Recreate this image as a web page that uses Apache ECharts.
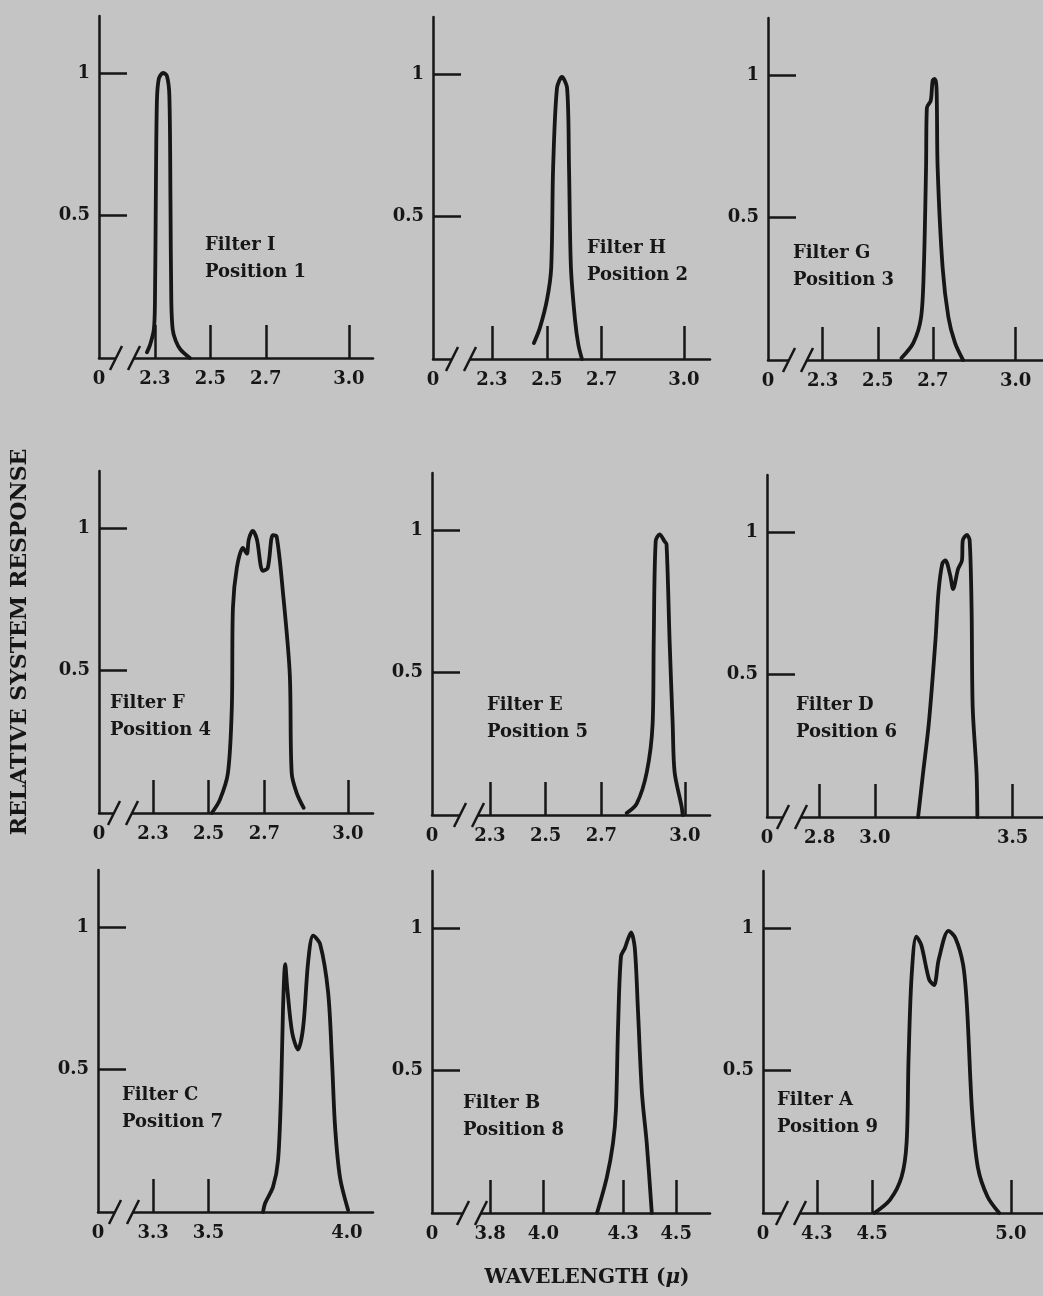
<!DOCTYPE html>
<html>
<head>
<meta charset="utf-8">
<title>Relative system response of filters</title>
<script src="https://cdn.jsdelivr.net/npm/echarts@6/dist/echarts.min.js"></script>
<style>
  html, body { margin: 0; padding: 0; background: #c4c4c4; }
  #chart { width: 1043px; height: 1296px; }
</style>
</head>
<body>
<div id="chart"></div>
<script>
// panel captions, in reading order
const panelNames = [
  'Filter I\nPosition 1', 'Filter H\nPosition 2', 'Filter G\nPosition 3',
  'Filter F\nPosition 4', 'Filter E\nPosition 5', 'Filter D\nPosition 6',
  'Filter C\nPosition 7', 'Filter B\nPosition 8', 'Filter A\nPosition 9'
];

// wavelength axis range shown right of the break (micron)
const axisMin = [2.098, 2.085, 2.102, 2.106, 2.092, 2.609, 3.101, 3.581, 4.106];
const axisMax = [3.087, 3.095, 3.099, 3.090, 3.090, 3.610, 4.094, 4.627, 5.116];

// tick marks and tick labels per panel
const tickVals = [
  [2.3, 2.5, 2.7, 3.0], [2.3, 2.5, 2.7, 3.0], [2.3, 2.5, 2.7, 3.0],
  [2.3, 2.5, 2.7, 3.0], [2.3, 2.5, 2.7, 3.0], [2.8, 3.0, 3.5],
  [3.3, 3.5], [3.8, 4.0, 4.3, 4.5], [4.3, 4.5, 5.0]
];
const labelVals = [
  [2.3, 2.5, 2.7, 3.0], [2.3, 2.5, 2.7, 3.0], [2.3, 2.5, 2.7, 3.0],
  [2.3, 2.5, 2.7, 3.0], [2.3, 2.5, 2.7, 3.0], [2.8, 3.0, 3.5],
  [3.3, 3.5, 4.0], [3.8, 4.0, 4.3, 4.5], [4.3, 4.5, 5.0]
];
const yTicks = [0.5, 1];

// response curves [wavelength, relative response]
const filterI = [[2.271,0.02],[2.282,0.045],[2.296,0.10],[2.300,0.20],[2.303,0.55],[2.307,0.90],[2.314,0.98],
  [2.329,1.0],[2.343,0.99],[2.352,0.92],[2.356,0.55],[2.359,0.20],[2.364,0.10],[2.375,0.06],[2.392,0.03],[2.426,0.0]];
const filterH = [[2.453,0.056],[2.475,0.11],[2.501,0.21],[2.516,0.32],[2.523,0.67],[2.537,0.95],[2.555,0.99],
  [2.574,0.95],[2.581,0.67],[2.588,0.32],[2.603,0.136],[2.615,0.05],[2.628,0.0]];
const filterG = [[2.586,0.007],[2.629,0.06],[2.657,0.15],[2.667,0.325],[2.675,0.675],[2.678,0.885],[2.692,0.91],
  [2.699,0.98],[2.706,0.986],[2.713,0.955],[2.717,0.675],[2.735,0.325],[2.756,0.15],[2.780,0.06],[2.809,0.0]];
const filterF = [[2.511,0.0],[2.540,0.046],[2.569,0.14],[2.583,0.37],[2.587,0.72],[2.601,0.86],[2.623,0.93],
  [2.637,0.91],[2.644,0.96],[2.658,0.99],[2.673,0.96],[2.694,0.85],[2.712,0.86],[2.730,0.975],[2.744,0.97],
  [2.766,0.78],[2.791,0.49],[2.798,0.14],[2.816,0.07],[2.841,0.018]];
const filterE = [[2.791,0.007],[2.827,0.04],[2.863,0.15],[2.884,0.32],[2.888,0.61],[2.895,0.96],[2.909,0.985],
  [2.927,0.96],[2.934,0.95],[2.945,0.61],[2.956,0.32],[2.963,0.15],[2.988,0.03],[2.992,0.0]];
const filterD = [[3.157,0.0],[3.175,0.154],[3.196,0.33],[3.220,0.62],[3.231,0.79],[3.245,0.89],[3.256,0.90],
  [3.273,0.85],[3.284,0.80],[3.302,0.87],[3.316,0.90],[3.319,0.97],[3.334,0.99],[3.344,0.97],[3.351,0.73],
  [3.355,0.385],[3.369,0.154],[3.372,0.0]];
const filterC = [[3.697,0.0],[3.704,0.03],[3.733,0.088],[3.751,0.18],[3.762,0.42],[3.769,0.71],[3.777,0.87],
  [3.784,0.79],[3.802,0.63],[3.823,0.57],[3.842,0.65],[3.860,0.88],[3.878,0.97],[3.903,0.94],[3.932,0.77],
  [3.946,0.53],[3.957,0.30],[3.975,0.12],[4.004,0.007]];
const filterB = [[4.202,0.0],[4.239,0.126],[4.262,0.245],[4.273,0.36],[4.281,0.65],[4.292,0.90],[4.307,0.93],
  [4.318,0.96],[4.330,0.985],[4.344,0.93],[4.356,0.71],[4.371,0.42],[4.389,0.245],[4.408,0.0]];
const filterA = [[4.508,0.0],[4.564,0.046],[4.606,0.127],[4.624,0.247],[4.631,0.54],[4.642,0.83],[4.659,0.97],
  [4.677,0.94],[4.705,0.82],[4.723,0.80],[4.740,0.89],[4.775,0.99],[4.800,0.965],[4.828,0.87],[4.842,0.72],
  [4.860,0.36],[4.881,0.16],[4.916,0.057],[4.958,0.0]];

const curves = [filterI, filterH, filterG, filterF, filterE, filterD, filterC, filterB, filterA];

// page layout: plot box of each panel in pixels, caption spot, break mark offset
const layout = [
  { left: 99,  axisY: 358,  right: 373,  brk: 26, capX: 205, capY: 240 },
  { left: 433, axisY: 359,  right: 710,  brk: 28, capX: 587, capY: 243 },
  { left: 768, axisY: 360,  right: 1050, brk: 30, capX: 793, capY: 248 },
  { left: 99,  axisY: 813,  right: 373,  brk: 24, capX: 110, capY: 698 },
  { left: 432, axisY: 815,  right: 710,  brk: 37, capX: 487, capY: 700 },
  { left: 767, axisY: 817,  right: 1050, brk: 25, capX: 796, capY: 700 },
  { left: 98,  axisY: 1212, right: 373,  brk: 26, capX: 122, capY: 1090 },
  { left: 432, axisY: 1213, right: 710,  brk: 40, capX: 463, capY: 1098 },
  { left: 763, axisY: 1213, right: 1050, brk: 28, capX: 777, capY: 1095 }
];

const ink = '#161616';
const paper = '#c4c4c4';
const serif = "'DejaVu Serif', 'Liberation Serif', serif";
const plotH = 342;

const grid = [], xAxis = [], yAxis = [], series = [], title = [];

layout.forEach((p, i) => {
  grid.push({ left: p.left, top: p.axisY - plotH, width: p.right - p.left, height: plotH });
  const lo = axisMin[i];
  xAxis.push({
    type: 'value', gridIndex: i, min: lo, max: axisMax[i],
    splitLine: { show: false },
    axisLine: { lineStyle: { color: ink, width: 2.5 } },
    axisTick: { inside: true, length: 33, customValues: tickVals[i], lineStyle: { color: ink, width: 2.5 } },
    axisLabel: {
      customValues: [lo].concat(labelVals[i]),
      formatter: v => Math.abs(v - lo) < 1e-6 ? '0' : v.toFixed(1),
      color: ink, fontFamily: serif, fontWeight: 'bold', fontSize: 18, margin: 12
    }
  });
  yAxis.push({
    type: 'value', gridIndex: i, min: 0, max: 1.2,
    splitLine: { show: false },
    axisLine: { show: true, lineStyle: { color: ink, width: 2.5 } },
    axisTick: { inside: true, length: 28, customValues: yTicks, lineStyle: { color: ink, width: 2.5 } },
    axisLabel: {
      customValues: yTicks,
      formatter: v => v === 1 ? '1' : '0.5',
      color: ink, fontFamily: serif, fontWeight: 'bold', fontSize: 18, margin: 9
    }
  });
  series.push({
    type: 'line', xAxisIndex: i, yAxisIndex: i, data: curves[i],
    showSymbol: false, smooth: 0.3, silent: true,
    lineStyle: { color: ink, width: 3.8, cap: 'round', join: 'round' }
  });
  // "//" break mark on the wavelength axis, just right of the origin
  series.push({
    type: 'custom', xAxisIndex: i, yAxisIndex: i, data: [[lo, 0]], clip: false, silent: true, z: 5,
    renderItem: (params, api) => {
      const o = api.coord([api.value(0), api.value(1)]);
      const cx = o[0] + p.brk, cy = o[1];
      const slash = dx => ({
        type: 'line',
        shape: { x1: cx + dx - 6, y1: cy + 12, x2: cx + dx + 6, y2: cy - 12 },
        style: { stroke: ink, lineWidth: 2.5 }
      });
      return {
        type: 'group',
        children: [
          { type: 'rect', shape: { x: cx - 9, y: cy - 3, width: 18, height: 6 }, style: { fill: paper } },
          slash(-9), slash(9)
        ]
      };
    }
  });
  title.push({
    text: panelNames[i], left: p.capX, top: p.capY - 8, padding: 0,
    textStyle: { color: ink, fontFamily: serif, fontWeight: 'bold', fontSize: 18, lineHeight: 27 }
  });
});

const chart = echarts.init(document.getElementById('chart'));
chart.setOption({
  backgroundColor: paper,
  animation: false,
  title: title,
  grid: grid,
  xAxis: xAxis,
  yAxis: yAxis,
  series: series,
  graphic: [
    {
      type: 'text', x: 20, y: 642, rotation: Math.PI / 2,
      style: {
        text: 'RELATIVE SYSTEM RESPONSE', align: 'center', verticalAlign: 'middle',
        fill: ink, font: "bold 22px 'DejaVu Serif', serif"
      }
    },
    {
      type: 'text', x: 587, y: 1278,
      style: {
        text: '{a|WAVELENGTH (}{b|μ}{a|)}', align: 'center', verticalAlign: 'middle',
        rich: {
          a: { fill: ink, fontFamily: serif, fontWeight: 'bold', fontSize: 20 },
          b: { fill: ink, fontFamily: serif, fontWeight: 'bold', fontStyle: 'italic', fontSize: 20 }
        }
      }
    }
  ]
});
</script>
</body>
</html>
